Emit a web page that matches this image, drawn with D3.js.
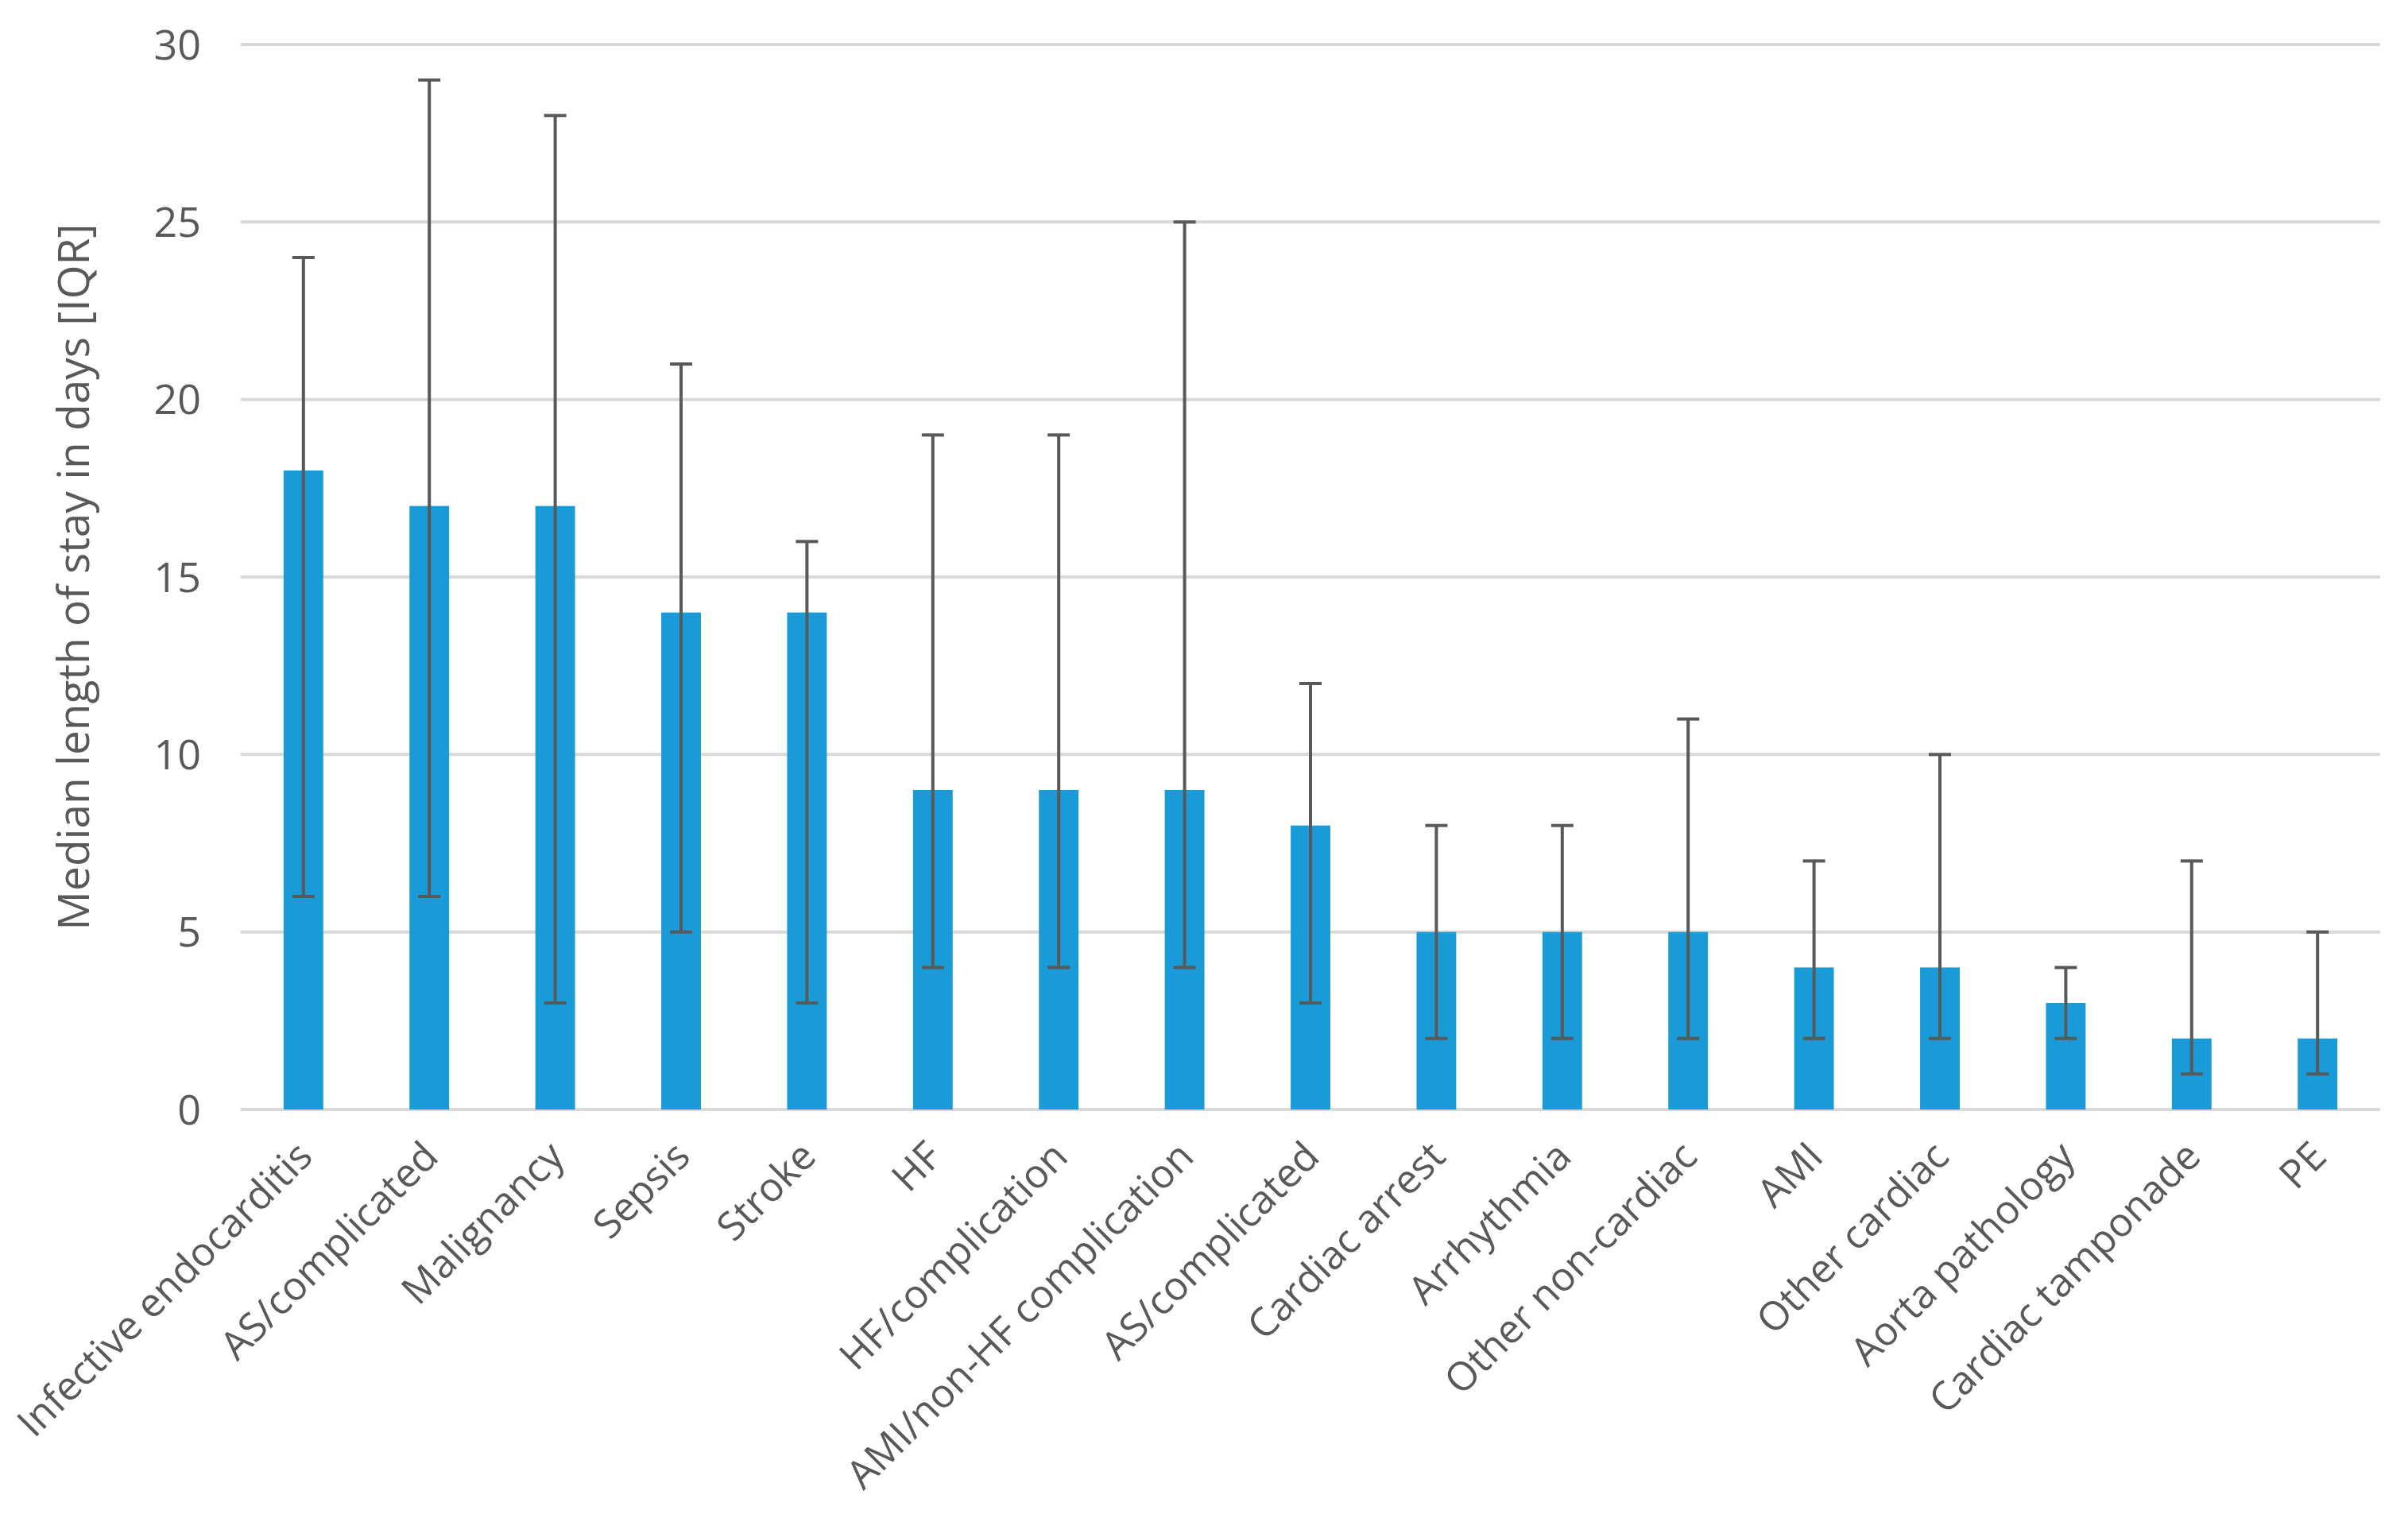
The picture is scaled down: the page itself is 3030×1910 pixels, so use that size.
<!DOCTYPE html>
<meta charset="utf-8">
<style>
  body { margin: 0; background: #fff; }
  text { font-family: "Open Sans", "Noto Sans", sans-serif; fill: #595959; }
</style>
<body>
<script src="https://cdn.jsdelivr.net/npm/d3@7"></script>
<script>
  // categories in chart order (AS/complicated appears twice in the source)
  const categories = ["Infective endocarditis", "AS/complicated", "Malignancy", "Sepsis", "Stroke",
    "HF", "HF/complication", "AMI/non-HF complication", "AS/complicated", "Cardiac arrest",
    "Arrhythmia", "Other non-cardiac", "AMI", "Other cardiac", "Aorta pathology",
    "Cardiac tamponade", "PE"];
  const medians = [18, 17, 17, 14, 14, 9, 9, 9, 8, 5, 5, 5, 4, 4, 3, 2, 2];
  const q1 = [6, 6, 3, 5, 3, 4, 4, 4, 3, 2, 2, 2, 2, 2, 2, 1, 1];
  const q3 = [24, 29, 28, 21, 16, 19, 19, 25, 12, 8, 8, 11, 7, 10, 4, 7, 5];
  const yTicks = [0, 5, 10, 15, 20, 25, 30];
  const yTitle = "Median length of stay in days [IQR]";

  const W = 3030, H = 1910;
  const mLeft = 303, mRight = 2995, mTop = 56, mBottom = 1396;

  const svg = d3.select("body").append("svg")
    .attr("width", W).attr("height", H);

  const x = d3.scaleBand()
    .domain(d3.range(categories.length))
    .range([mLeft, mRight])
    .paddingInner(0.685)
    .paddingOuter(0.34);

  const y = d3.scaleLinear().domain([0, 30]).range([mBottom, mTop]);

  // gridlines
  svg.append("g")
    .selectAll("line")
    .data(yTicks)
    .join("line")
    .attr("x1", mLeft).attr("x2", mRight)
    .attr("y1", d => y(d)).attr("y2", d => y(d))
    .attr("stroke", "#d9d9d9")
    .attr("stroke-width", 4);

  // y tick labels
  svg.append("g")
    .selectAll("text")
    .data(yTicks)
    .join("text")
    .attr("x", 253)
    .attr("y", d => y(d))
    .attr("dy", "0.36em")
    .attr("text-anchor", "end")
    .style("font-size", "52px")
    .text(d => d);

  // bars
  svg.append("g")
    .selectAll("rect")
    .data(medians)
    .join("rect")
    .attr("x", (d, i) => x(i))
    .attr("width", x.bandwidth())
    .attr("y", d => y(d))
    .attr("height", d => y(0) - y(d))
    .attr("fill", "#199bd8");

  // error bars (IQR)
  const err = svg.append("g")
    .attr("stroke", "#595959")
    .attr("stroke-width", 4)
    .selectAll("g")
    .data(d3.range(categories.length))
    .join("g")
    .attr("transform", i => `translate(${x(i) + x.bandwidth() / 2},0)`);

  err.append("line")
    .attr("y1", i => y(q1[i])).attr("y2", i => y(q3[i]));
  err.append("line")
    .attr("x1", -14).attr("x2", 14)
    .attr("y1", i => y(q3[i])).attr("y2", i => y(q3[i]));
  err.append("line")
    .attr("x1", -14).attr("x2", 14)
    .attr("y1", i => y(q1[i])).attr("y2", i => y(q1[i]));

  // x labels, rotated
  svg.append("g")
    .selectAll("text")
    .data(categories)
    .join("text")
    .attr("transform", (d, i) => `translate(${x(i) + x.bandwidth() / 2 + 14},1458) rotate(-45)`)
    .attr("text-anchor", "end")
    .style("font-size", "50px")
    .text(d => d);

  // y axis title
  svg.append("text")
    .attr("transform", `translate(93,726) rotate(-90)`)
    .attr("dy", "0.35em")
    .attr("text-anchor", "middle")
    .style("font-size", "55px")
    .text(yTitle);
</script>
</body>
